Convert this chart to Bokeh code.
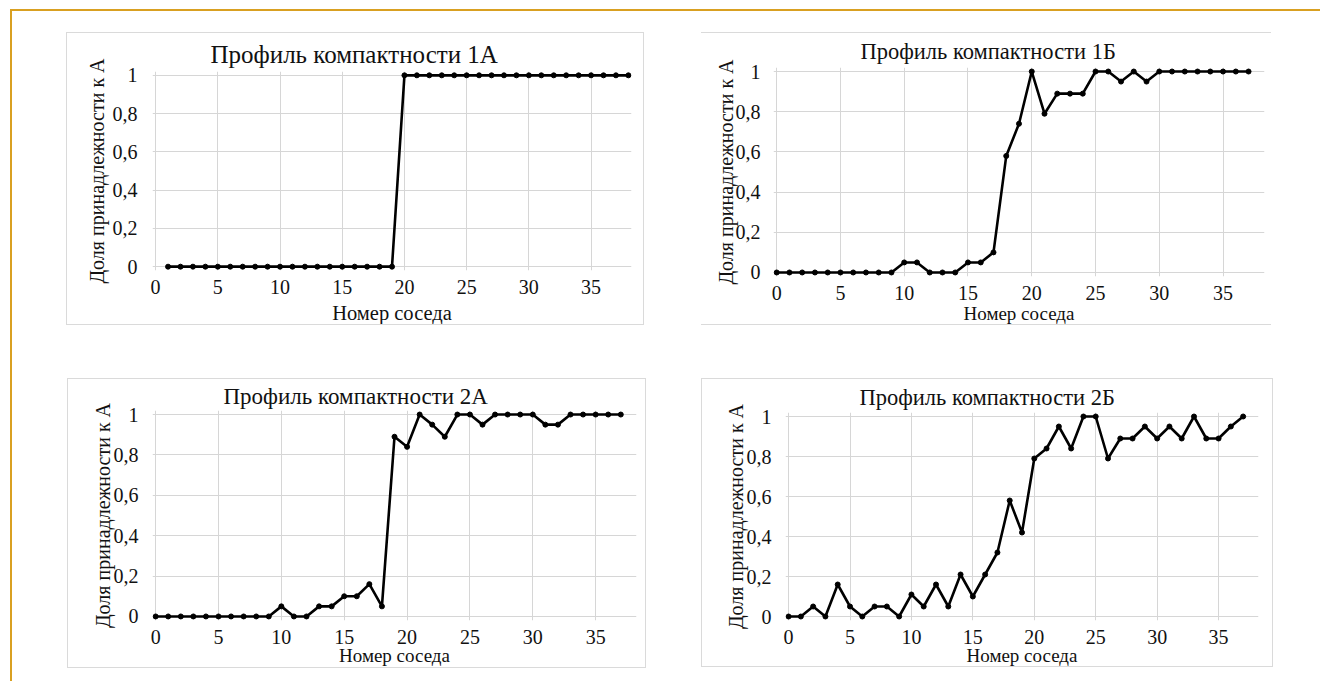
from bokeh.plotting import figure
from bokeh.layouts import row, column
from bokeh.models import Range1d, FixedTicker
from bokeh.embed import file_html
from bokeh.resources import INLINE

# ---------------- data ----------------
titles = ["Профиль компактности 1А", "Профиль компактности 1Б",
          "Профиль компактности 2А", "Профиль компактности 2Б"]
x_label = "Номер соседа"
y_label = "Доля принадлежности к А"
x_ticks = [0, 5, 10, 15, 20, 25, 30, 35]
y_ticks = [0, 0.2, 0.4, 0.6, 0.8, 1]
y_tick_labels = ["0", "0,2", "0,4", "0,6", "0,8", "1"]

x_1a = [1, 2, 3, 4, 5, 6, 7, 8, 9, 10, 11, 12, 13, 14, 15, 16, 17, 18, 19,
        20, 21, 22, 23, 24, 25, 26, 27, 28, 29, 30, 31, 32, 33, 34, 35, 36, 37, 38]
y_1a = [0, 0, 0, 0, 0, 0, 0, 0, 0, 0, 0, 0, 0, 0, 0, 0, 0, 0, 0,
        1, 1, 1, 1, 1, 1, 1, 1, 1, 1, 1, 1, 1, 1, 1, 1, 1, 1, 1]

x_0_37 = [0, 1, 2, 3, 4, 5, 6, 7, 8, 9, 10, 11, 12, 13, 14, 15, 16, 17, 18, 19,
          20, 21, 22, 23, 24, 25, 26, 27, 28, 29, 30, 31, 32, 33, 34, 35, 36, 37]
y_1b = [0, 0, 0, 0, 0, 0, 0, 0, 0, 0,
        0.05, 0.05, 0, 0, 0, 0.05, 0.05, 0.1, 0.58, 0.74,
        1, 0.79, 0.89, 0.89, 0.89, 1, 1, 0.95, 1, 0.95,
        1, 1, 1, 1, 1, 1, 1, 1]
y_2a = [0, 0, 0, 0, 0, 0, 0, 0, 0, 0,
        0.05, 0, 0, 0.05, 0.05, 0.1, 0.1, 0.16, 0.05, 0.89,
        0.84, 1, 0.95, 0.89, 1, 1, 0.95, 1, 1, 1,
        1, 0.95, 0.95, 1, 1, 1, 1, 1]
y_2b = [0, 0, 0.05, 0, 0.16, 0.05, 0, 0.05, 0.05, 0,
        0.11, 0.05, 0.16, 0.05, 0.21, 0.1, 0.21, 0.32, 0.58, 0.42,
        0.79, 0.84, 0.95, 0.84, 1, 1, 0.79, 0.89, 0.89, 0.95,
        0.89, 0.95, 0.89, 1, 0.89, 0.89, 0.95, 1]

FONT = "Liberation Serif"
GRID = "#d6d6d6"
TXT = "#111111"
ORANGE = "#D9A021"
BOX = "1px solid #dadada"


def panel(title, xs, ys, g):
    w, h = g["w"], g["h"]
    bl, br, bt, bb = g["borders"]
    p = figure(width=w, height=h, output_backend="svg", toolbar_location=None,
               x_range=Range1d(-0.25, 38.25), y_range=Range1d(-0.02, 1.02),
               min_border_left=bl, min_border_right=br,
               min_border_top=bt, min_border_bottom=bb,
               background_fill_color="white", border_fill_color="white",
               outline_line_color=None, styles=g["box"])
    p.title.text = title
    p.title.align = "left"
    p.title.offset = g["t_off"]
    p.title.standoff = g["t_std"]
    p.title.text_font = FONT
    p.title.text_font_size = g["title_size"]
    p.title.text_font_style = "normal"
    p.title.text_color = TXT

    xt = FixedTicker(ticks=x_ticks)
    yt = FixedTicker(ticks=y_ticks)
    p.xaxis.ticker = xt
    p.yaxis.ticker = yt
    p.xgrid.ticker = xt
    p.ygrid.ticker = yt
    p.yaxis.major_label_overrides = {t: s for t, s in zip(y_ticks, y_tick_labels)}

    for ax in (p.xaxis[0], p.yaxis[0]):
        ax.axis_line_color = None
        ax.major_tick_line_color = None
        ax.minor_tick_line_color = None
        ax.major_tick_out = 0
        ax.major_tick_in = 0
        ax.major_label_text_font = FONT
        ax.major_label_text_font_size = "20px"
        ax.major_label_text_color = TXT
        ax.axis_label_text_font = FONT
        ax.axis_label_text_font_style = "normal"
        ax.axis_label_text_color = TXT
    p.xaxis.axis_label = x_label
    p.yaxis.axis_label = y_label
    p.xaxis.axis_label_text_font_size = g["xlab_size"]
    p.yaxis.axis_label_text_font_size = "20px"
    p.xaxis.major_label_standoff = g["tick_std_x"]
    p.yaxis.major_label_standoff = g["tick_std_y"]
    p.xaxis.axis_label_standoff = g["lab_std_x"]
    p.yaxis.axis_label_standoff = g["lab_std_y"]

    p.xgrid.grid_line_color = GRID
    p.ygrid.grid_line_color = GRID
    p.xgrid.grid_line_width = 1
    p.ygrid.grid_line_width = 1

    p.line(xs, ys, line_color="black", line_width=2.6)
    p.scatter(xs, ys, size=5, marker="circle", fill_color="black", line_color="black")
    # wrap so that plots in the same row do not share aligned borders
    return column(p, margin=g["margin"])


g1 = dict(w=578, h=293, borders=(85, 14, 38, 55), margin=(21, 0, 0, 54), box={"border": BOX},
          tick_std_x=9, tick_std_y=15, lab_std_x=5, lab_std_y=2,
          xlab_size="20.5px", title_size="25px", t_off=58, t_std=8)
g2 = dict(w=570, h=293, borders=(72, 7, 34, 48), margin=(21, 0, 0, 57),
          box={"border-top": BOX, "border-bottom": BOX},
          tick_std_x=9, tick_std_y=13, lab_std_x=0, lab_std_y=-4,
          xlab_size="19px", title_size="22.5px", t_off=87, t_std=7)
g3 = dict(w=579, h=290, borders=(84, 11, 31, 49), margin=(53, 0, 0, 55), box={"border": BOX},
          tick_std_x=9, tick_std_y=14, lab_std_x=-2, lab_std_y=-3,
          xlab_size="19px", title_size="23px", t_off=71, t_std=3)
g4 = dict(w=572, h=289, borders=(83, 16, 33, 48), margin=(53, 0, 0, 55), box={"border": BOX},
          tick_std_x=9, tick_std_y=14, lab_std_x=-2, lab_std_y=-3,
          xlab_size="19px", title_size="22.5px", t_off=74, t_std=6)

c1 = panel(titles[0], x_1a, y_1a, g1)
c2 = panel(titles[1], x_0_37, y_1b, g2)
c3 = panel(titles[2], x_0_37, y_2a, g3)
c4 = panel(titles[3], x_0_37, y_2b, g4)

layout = column(row(c1, c2), row(c3, c4), width=1310, height=672, margin=(9, 0, 0, 10),
                styles={"border-top": "2px solid " + ORANGE, "border-left": "2px solid " + ORANGE,
                        "background-color": "white"})

open("out.html", "w").write(file_html(layout, INLINE))
